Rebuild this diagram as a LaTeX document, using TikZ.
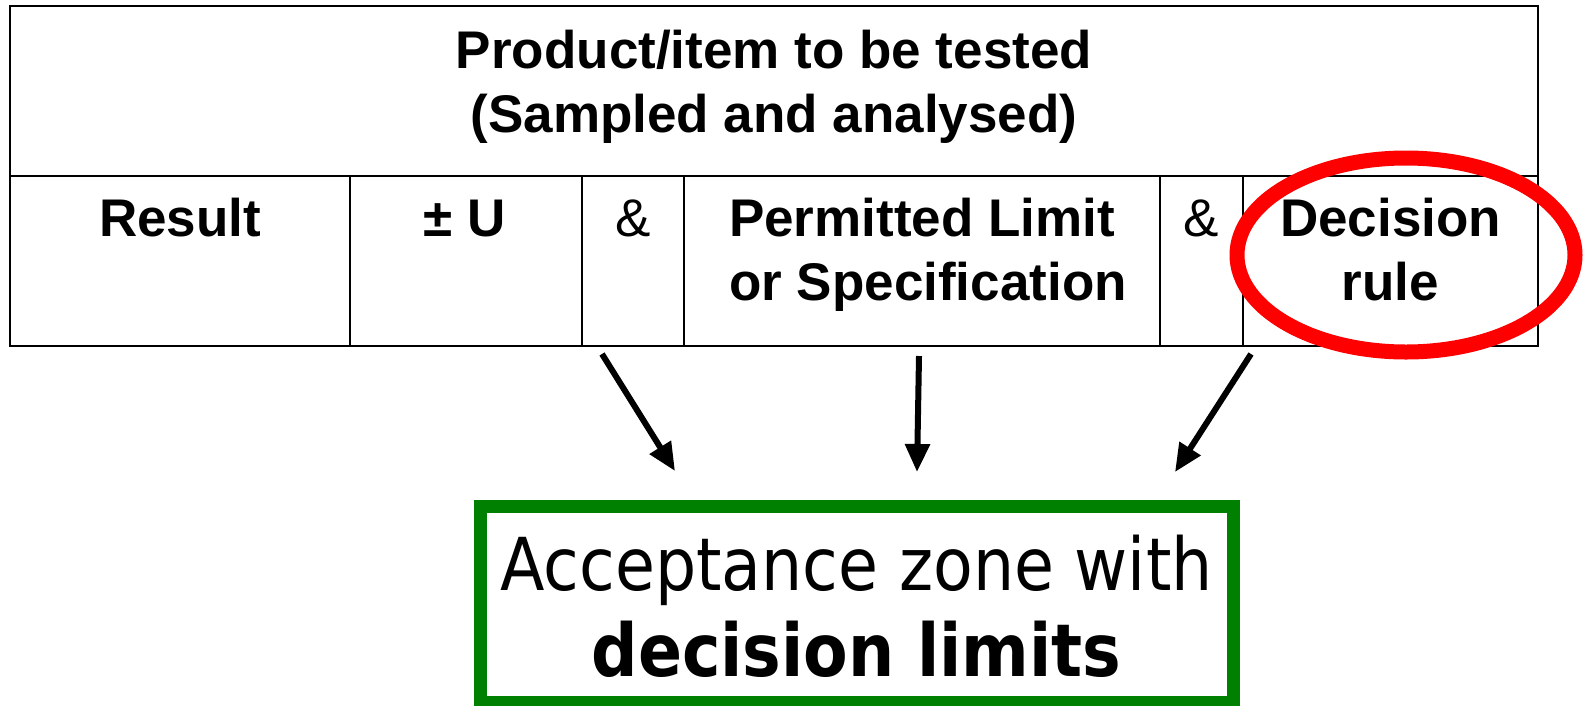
\documentclass[tikz,border=0pt]{standalone}
\usepackage{fontspec}
\setmainfont{Liberation Sans}
\newfontfamily\boxfont[FakeStretch=0.89]{DejaVu Sans}
\usetikzlibrary{arrows.meta}
\definecolor{boxgreen}{RGB}{0,128,0}
\definecolor{ringred}{RGB}{255,0,0}
\begin{document}
\begin{tikzpicture}[x=1pt,y=-1pt,
  cell/.style={draw=black,line width=2.5pt,minimum width=#1,minimum height=170pt,inner sep=0pt,outer sep=0pt},
  txt/.style={inner sep=0pt,anchor=base,font=\fontsize{53}{64}\selectfont\bfseries},
  amp/.style={inner sep=0pt,anchor=base,font=\fontsize{53}{64}\selectfont},
  arr/.style={line width=6pt,-{Triangle[length=28pt,width=24pt]}},
  ring/.style={draw=ringred,line width=15pt},
  greenbox/.style={draw=boxgreen,line width=13pt,minimum width=753pt,minimum height=196pt,inner sep=0pt,outer sep=0pt},
  boxtxt/.style={inner sep=0pt,anchor=base,font=\boxfont\fontsize{73}{87}\selectfont}
]
\useasboundingbox (0,0) rectangle (1584,705);

% table cells
\node[cell=1528pt] (head) at (774,91) {};
\node[cell=340pt] (result) at (180,261) {};
\node[cell=232pt] (pmu) at (466,261) {};
\node[cell=102pt] (amp1) at (633,261) {};
\node[cell=476pt] (limit) at (922,261) {};
\node[cell=83pt] (amp2) at (1201.5,261) {};
\node[cell=295pt] (rule) at (1390.5,261) {};

% texts
\node[txt] (h1) at (774,68) {Product/item to be tested};
\node[txt] (h2) at (774,132) {(Sampled and analysed)};
\node[txt] (tres) at (180,236) {Result};
\node[txt] (tpmu) at (465,236) {± U};
\node[amp] (tamp1) at (633,236) {\&};
\node[txt] (tlim1) at (922,236) {Permitted Limit};
\node[txt] (tlim2) at (928,300) {or Specification};
\node[amp] (tamp2) at (1201.5,236) {\&};
\node[txt] (trule1) at (1390.5,236) {Decision};
\node[txt] (trule2) at (1390.5,300) {rule};

% red ring
\draw[ring] (1406,255) ellipse [x radius=169pt, y radius=97pt];

% green box
\node[greenbox] (accept) at (856.5,604) {};
\node[boxtxt] (acc1) at (856.5,590) {Acceptance zone with};
\node[boxtxt] (acc2) at (856.5,676) {\bfseries decision limits};

% arrows
\coordinate (s1) at (602,354);
\coordinate (e1) at (675,471);
\coordinate (s2) at (919,356);
\coordinate (e2) at (917,472);
\coordinate (s3) at (1251,354);
\coordinate (e3) at (1175,472);
\draw[arr] (s1) -- (e1);
\draw[arr] (s2) -- (e2);
\draw[arr] (s3) -- (e3);
\end{tikzpicture}
\end{document}
